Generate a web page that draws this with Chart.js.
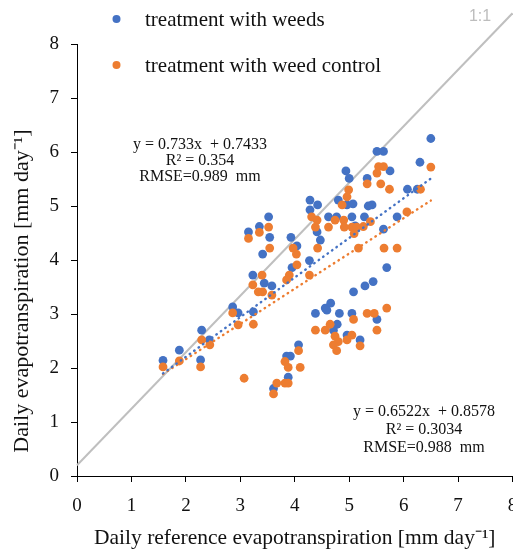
<!DOCTYPE html>
<html><head><meta charset="utf-8">
<script src="https://cdn.jsdelivr.net/npm/chart.js@4"></script>
<style>html,body{margin:0;padding:0;background:#fff;overflow:hidden}#wrap{width:513px;height:550px;position:relative}</style>
</head><body><div id="wrap"><canvas id="c" width="513" height="550"></canvas></div>
<script>
// ---- data ----
const seriesNames = ['treatment with weeds', 'treatment with weed control'];
const weedsX = [1.58,1.88,2.29,2.27,2.43,2.86,2.96,3.23,3.24,3.15,3.35,3.52,3.54,3.41,3.44,3.58,3.93,3.95,4.27,4.28,4.42,4.28,4.41,4.47,4.62,4.77,4.80,4.96,5.07,5.05,5.28,5.11,5.42,5.35,4.94,5.00,5.33,5.51,5.63,5.75,6.07,6.25,6.30,6.50,5.88,5.63,5.69,5.44,5.29,5.08,4.38,4.56,4.66,4.59,4.82,5.05,5.51,4.78,4.71,4.96,5.20,4.07,3.85,3.92,3.88,3.61,4.04];
const weedsY = [2.14,2.33,2.70,2.15,2.52,3.13,3.02,3.72,3.04,4.52,4.62,4.80,4.42,4.11,3.57,3.52,4.42,3.86,3.99,5.11,5.02,4.93,4.52,4.37,4.80,4.80,5.11,5.02,5.04,4.80,4.80,4.63,5.02,5.00,5.65,5.51,5.51,6.01,6.01,5.65,5.31,5.31,5.81,6.25,4.80,4.57,3.86,3.60,3.52,3.41,3.01,3.11,3.20,3.07,3.01,3.01,2.90,2.81,2.70,2.61,2.52,2.43,2.22,2.22,1.83,1.62,4.26];
const controlX = [1.58,1.88,2.27,2.29,2.44,2.86,2.96,3.24,3.23,3.07,3.33,3.15,3.35,3.52,3.54,3.41,3.58,3.40,3.85,3.90,3.97,4.03,4.04,4.27,4.42,4.31,4.41,4.38,4.62,4.74,4.90,4.91,5.05,5.14,4.87,4.99,4.96,5.33,5.51,5.54,5.63,5.58,5.74,6.31,6.50,6.06,5.26,5.39,5.09,5.17,5.64,5.88,5.33,5.46,5.69,5.08,5.51,4.38,4.56,4.65,4.74,4.80,4.96,5.05,4.71,4.77,5.20,4.07,3.82,3.88,4.10,3.67,3.82,3.88,3.61];
const controlY = [2.02,2.13,2.02,2.52,2.43,3.02,2.80,2.81,3.54,1.81,3.41,4.40,4.51,4.61,4.22,3.41,3.35,3.72,3.63,3.72,4.22,4.11,3.91,3.72,4.22,4.80,4.74,4.61,4.61,4.74,4.74,4.61,4.61,4.61,5.02,5.30,5.17,5.41,5.61,5.73,5.73,5.41,5.31,5.31,5.72,4.89,4.62,4.71,4.49,4.22,4.22,4.22,3.01,3.01,3.11,2.90,2.70,2.70,2.70,2.81,2.59,2.49,2.52,2.61,2.43,2.32,2.41,2.32,2.12,2.01,2.01,1.72,1.72,1.72,1.52];
const weedsTrendX = [1.58, 6.50];
const weedsTrendY = [1.90, 5.51];
const controlTrendX = [1.58, 6.50];
const controlTrendY = [1.89, 5.10];
const refLineX = [0, 8];
const refLineY = [0.2, 8.57];
const axisTicks = [0,1,2,3,4,5,6,7,8];
const weedsEquation = ['y = 0.733x  + 0.7433', 'R\u00B2 = 0.354', 'RMSE=0.989  mm'];
const controlEquation = ['y = 0.6522x  + 0.8578', 'R\u00B2 = 0.3034', 'RMSE=0.988  mm'];
const xTitle = 'Daily reference evapotranspiration [mm day\u207B\u00B9]';
const yTitle = 'Daily evapotranspiration [mm day\u207B\u00B9]';
const refLabel = '1:1';

const BLUE = '#4472C4', ORANGE = '#ED7D31', GREY = '#BFBFBF';
const SERIF = '"Liberation Serif", "Times New Roman", serif';
const pts = (xs, ys) => xs.map((x, i) => ({x, y: ys[i]}));

const extras = {
  id: 'extras',
  afterLayout(chart) {
    // x axis runs to the right canvas edge as in the reference (last label is cut off)
    const xs = chart.scales.x;
    const R = 512.5;
    xs.right = R; xs.width = R - xs.left; xs.configure();
    chart.chartArea.right = R; chart.chartArea.width = R - chart.chartArea.left;
  },
  afterDatasetsDraw(chart) {
    const ctx = chart.ctx;
    ctx.save();
    // legend
    const leg = [[BLUE, seriesNames[0], 19], [ORANGE, seriesNames[1], 65]];
    ctx.font = '21px ' + SERIF;
    ctx.textBaseline = 'middle';
    ctx.textAlign = 'left';
    leg.forEach(([c, t, y]) => {
      ctx.fillStyle = c;
      ctx.beginPath(); ctx.arc(116.5, y, 4, 0, Math.PI * 2); ctx.fill();
      ctx.fillStyle = '#111';
      ctx.fillText(t, 145, y + 1);
    });
    // equations
    ctx.font = '16px ' + SERIF;
    ctx.textAlign = 'center';
    weedsEquation.forEach((t, i) => ctx.fillText(t, 200, 145 + i * 16));
    controlEquation.forEach((t, i) => ctx.fillText(t, 424, 412 + i * 18));
    // 1:1 label
    ctx.font = '16px "Liberation Sans", Arial, sans-serif';
    ctx.fillStyle = '#BDBDBD';
    ctx.fillText(refLabel, 480, 17);
    // y title
    ctx.fillStyle = '#111';
    ctx.font = '22px ' + SERIF;
    ctx.translate(22, 291);
    ctx.rotate(-Math.PI / 2);
    ctx.fillText(yTitle, 0, 0);
    ctx.restore();
  }
};

new Chart(document.getElementById('c'), {
  type: 'scatter',
  data: {
    datasets: [
      {label: seriesNames[0], data: pts(weedsX, weedsY), backgroundColor: BLUE, borderWidth: 0, pointRadius: 4.4, order: 2},
      {label: seriesNames[1], data: pts(controlX, controlY), backgroundColor: ORANGE, borderWidth: 0, pointRadius: 4.4, order: 1},
      {label: 'trend weeds', data: pts(weedsTrendX, weedsTrendY), showLine: true, pointRadius: 0, borderColor: BLUE, borderWidth: 2.4, borderDash: [0.5, 5], borderCapStyle: 'round', order: 0},
      {label: 'trend control', data: pts(controlTrendX, controlTrendY), showLine: true, pointRadius: 0, borderColor: ORANGE, borderWidth: 2.4, borderDash: [0.5, 5], borderCapStyle: 'round', order: 0},
      {label: '1:1', data: pts(refLineX, refLineY), showLine: true, pointRadius: 0, borderColor: GREY, borderWidth: 2, clip: false, order: 3}
    ]
  },
  options: {
    responsive: false,
    animation: false,
    devicePixelRatio: 1,
    layout: {padding: {top: 44, right: 1, left: 0, bottom: 0}},
    plugins: {legend: {display: false}, tooltip: {enabled: false}},
    scales: {
      x: {
        type: 'linear', min: 0, max: 8,
        afterBuildTicks: s => { s.ticks = axisTicks.map(v => ({value: v})); },
        afterFit: s => { s.height = 74; s.paddingLeft = 0; s.paddingRight = 0; },
        grid: {display: true, drawOnChartArea: false, drawTicks: true, tickLength: 6, color: '#000', lineWidth: 1},
        border: {display: true, color: '#000', width: 1},
        ticks: {color: '#111', padding: 13, font: {family: SERIF, size: 19}, maxRotation: 0, autoSkip: false},
        title: {display: true, text: xTitle, color: '#111', font: {family: SERIF, size: 21.5, lineHeight: 1.1}, padding: {top: 0, bottom: 0}}
      },
      y: {
        type: 'linear', min: 0, max: 8,
        afterBuildTicks: s => { s.ticks = axisTicks.map(v => ({value: v})); },
        afterFit: s => { s.width = 77; s.paddingTop = 0; s.paddingBottom = 0; },
        grid: {display: true, drawOnChartArea: false, drawTicks: true, tickLength: 6, color: '#000', lineWidth: 1},
        border: {display: true, color: '#000', width: 1},
        ticks: {color: '#111', padding: 12, font: {family: SERIF, size: 19}, autoSkip: false}
      }
    }
  },
  plugins: [extras]
});
</script></body></html>
